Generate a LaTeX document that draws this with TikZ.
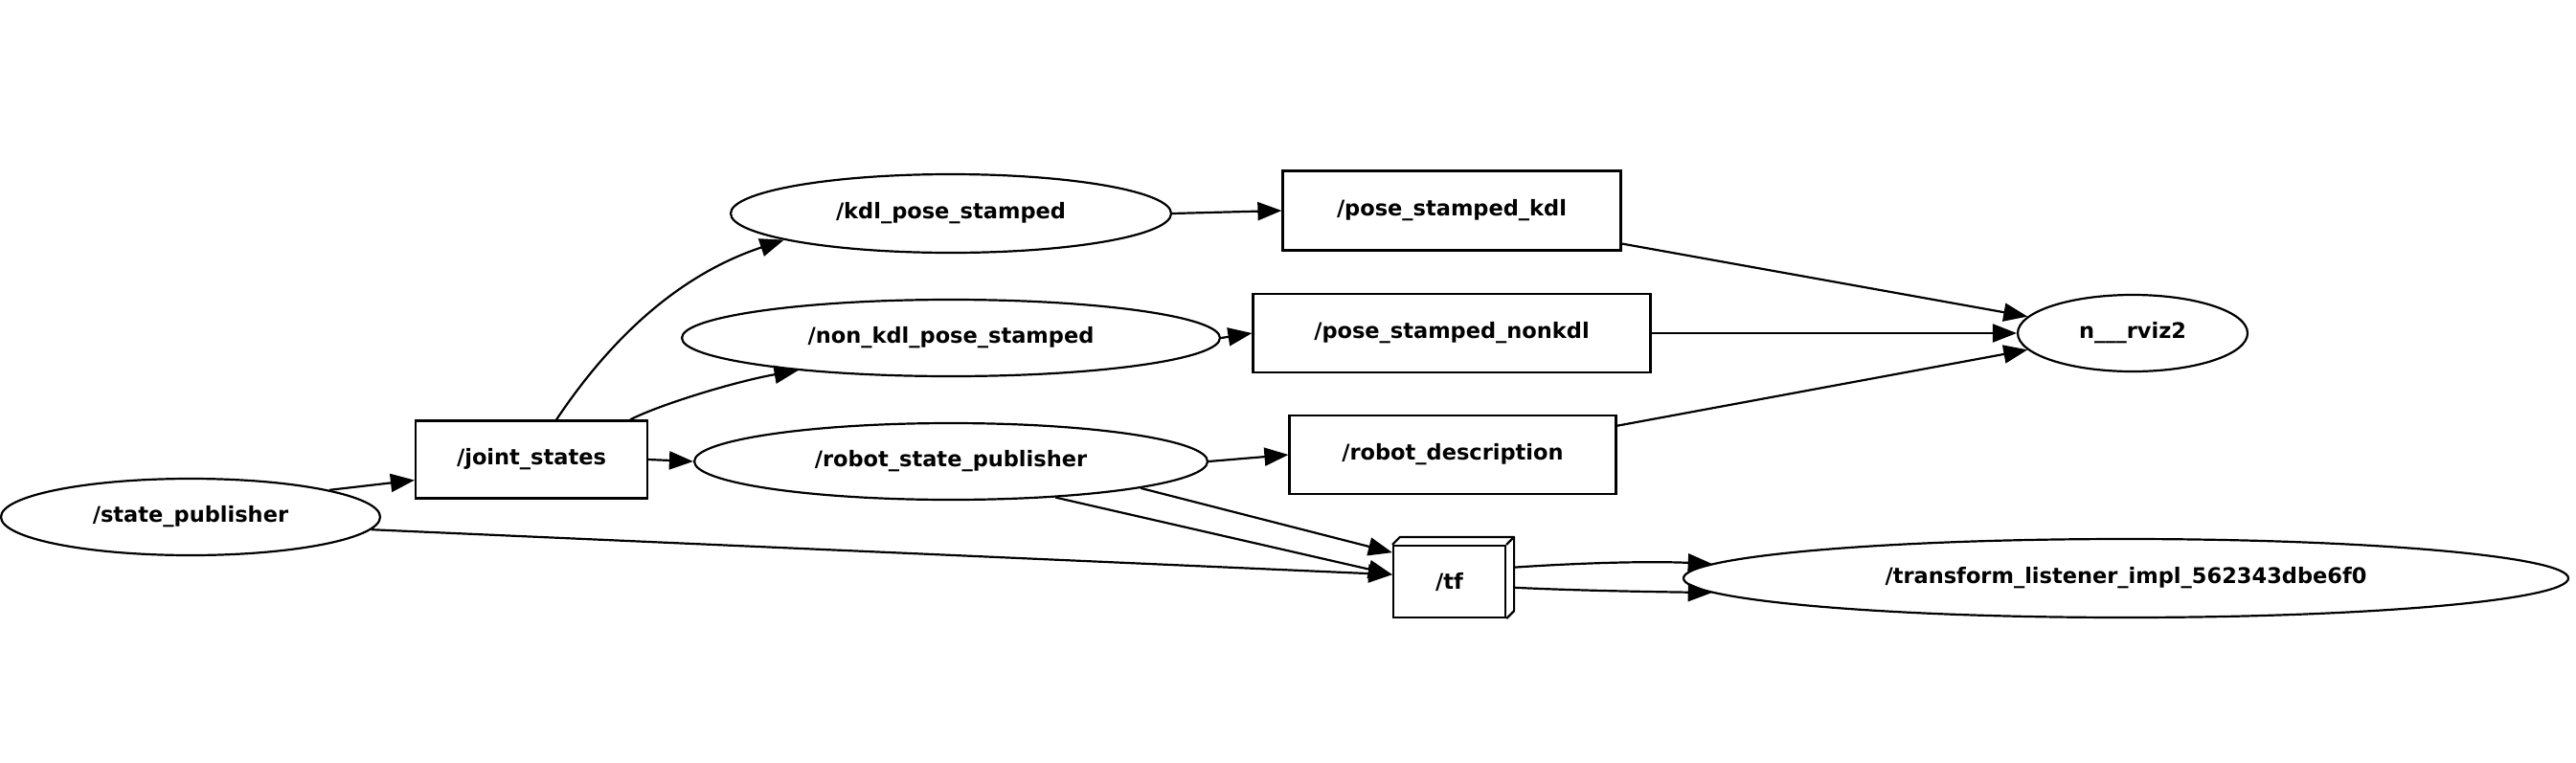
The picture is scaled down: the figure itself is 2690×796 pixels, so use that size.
\documentclass[tikz,border=0pt]{standalone}
\usepackage{fontspec}
\newfontfamily\lab{DejaVu Sans}
\usetikzlibrary{shapes.geometric,arrows.meta}
\tikzset{
  lbl/.style={font=\lab\bfseries\fontsize{22.5}{27}\selectfont, text=black},
  ell/.style={ellipse, draw, line width=2.2pt, inner sep=0pt, lbl},
  box/.style={rectangle, draw, line width=2.2pt, inner sep=0pt, lbl},
  edge/.style={line width=2.2pt, -{Triangle[length=25pt,width=19pt]}}
}
\begin{document}
\begin{tikzpicture}[x=1pt,y=-1pt]
\fill[white] (0,0) rectangle (2690,796);
\useasboundingbox (0,0) rectangle (2690,796);
% nodes
\node[ell, minimum width=396pt, minimum height=80pt] (sp) at (199,540) {/state\_publisher};
\node[box, minimum width=242pt, minimum height=81pt] (js) at (555,480) {/joint\_states};
\node[ell, minimum width=460pt, minimum height=82pt] (kdl) at (993,223) {/kdl\_pose\_stamped};
\node[ell, minimum width=562pt, minimum height=80pt] (nonkdl) at (993,353) {/non\_kdl\_pose\_stamped};
\node[ell, minimum width=536pt, minimum height=80pt] (rsp) at (993,482) {/robot\_state\_publisher};
\node[box, minimum width=353pt, minimum height=83pt] (psk) at (1516,220) {/pose\_stamped\_kdl};
\node[box, minimum width=415pt, minimum height=82pt] (psn) at (1516,348) {/pose\_stamped\_nonkdl};
\node[box, minimum width=341pt, minimum height=82pt] (rd) at (1517,475) {/robot\_description};
\node[ell, minimum width=240pt, minimum height=80pt] (rviz) at (2227,348) {n\_\_\_rviz2};
\node[box, minimum width=117pt, minimum height=75pt] (tf) at (1513.5,607.5) {/tf};
\node[ell, minimum width=924pt, minimum height=82pt] (tl) at (2220,604) {/transform\_listener\_impl\_562343dbe6f0};
% 3d faces of /tf
\draw[line width=2.2pt, line join=round] (tf.north west) -- ++(8,-8) -| ([shift={(8,-8)}]tf.south east) -- (tf.south east);
\draw[line width=2.2pt] (tf.north east) -- ++(8,-8);
% edges
\draw[edge] (sp.11) -- (js.190);
\draw[edge] (sp.-4) -- (tf.173);
\draw[edge] (js.58) .. controls (630,365) and (700,290) .. (kdl.189);
\draw[edge] (js.22) .. controls (690,422) and (770,398) .. (nonkdl.192);
\draw[edge] (js.east) -- (rsp.west);
\draw[edge] (kdl.east) -- (psk.west);
\draw[edge] (nonkdl.east) -- (psn.west);
\draw[edge] (rsp.east) -- (rd.west);
\draw[edge] (rsp.-8) -- (tf.153);
\draw[edge] (rsp.-19) -- (tf.173);
\draw[edge] ([xshift=8pt]tf.14) .. controls (1650,588) and (1720,586) .. (tl.178);
\draw[edge] ([xshift=8pt]tf.-6) .. controls (1650,617) and (1720,618) .. (tl.182);
\draw[edge] (psk.-11) -- (rviz.171);
\draw[edge] (psn.east) -- (rviz.west);
\draw[edge] (rd.10) -- (rviz.189);
\end{tikzpicture}
\end{document}
